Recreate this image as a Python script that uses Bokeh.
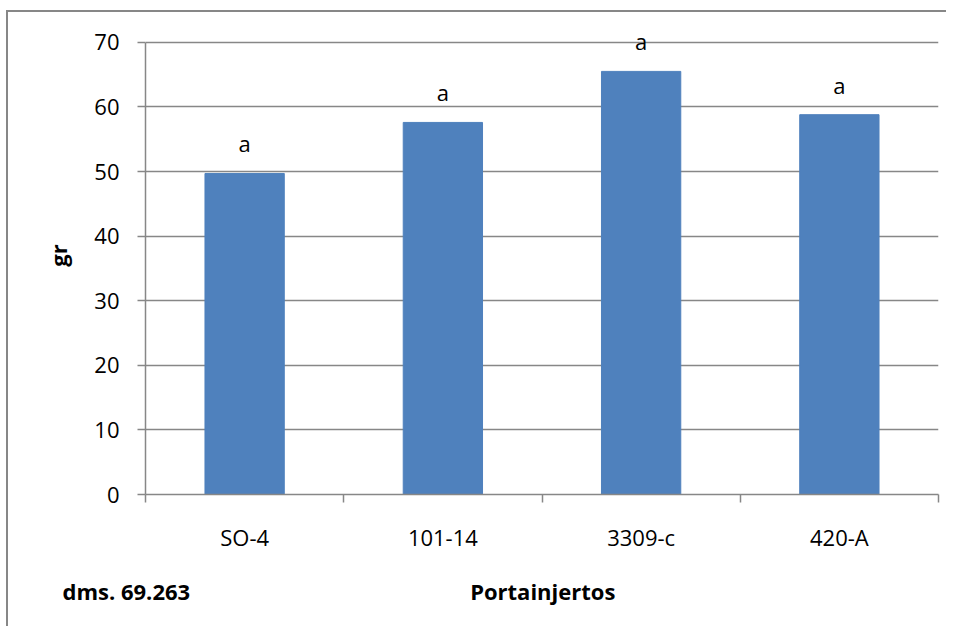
from bokeh.plotting import figure
from bokeh.models import Range1d, FixedTicker, ColumnDataSource, Title
from bokeh.core.properties import value
from bokeh.embed import file_html
from bokeh.resources import INLINE

categories = ["SO-4", "101-14", "3309-c", "420-A"]
values = [49.7, 57.6, 65.5, 58.8]
letters = ["a", "a", "a", "a"]
y_ticks = [0, 10, 20, 30, 40, 50, 60, 70]
y_label = "gr"
x_label = "Portainjertos"
note = "dms. 69.263"

FONT = "Open Sans"
GREY = "#878787"
NBSP = "\u00a0"

centers = [i + 0.5 for i in range(len(categories))]
bounds = list(range(len(categories) + 1))

src = ColumnDataSource(dict(x=centers, top=values, txt=letters))

p = figure(width=940, height=616, output_backend="svg", toolbar_location=None,
           x_range=Range1d(0, len(categories)), y_range=Range1d(y_ticks[0], y_ticks[-1] + 4),
           min_border_left=137, min_border_top=4, min_border_right=10, min_border_bottom=134)
p.styles = {"border-left": "2px solid #878787", "border-top": "2px solid #878787",
            "margin-left": "6px", "margin-top": "10px"}
p.outline_line_color = None
p.background_fill_color = "white"
p.border_fill_color = "white"

p.vbar(x="x", top="top", width=0.4, source=src, fill_color="#4F81BD", line_color="#4F81BD")
p.text(x="x", y="top", text="txt", source=src, y_offset=-30, text_align="center",
       text_baseline="alphabetic", text_font=value(FONT), text_font_size="22px", text_color="black")

# x axis
xa = p.xaxis[0]
xa.ticker = FixedTicker(ticks=centers, minor_ticks=bounds)
xa.major_label_overrides = {c: n for c, n in zip(centers, categories)}
xa.major_tick_line_color = None
xa.major_tick_out = 0
xa.major_tick_in = 0
xa.minor_tick_line_color = GREY
xa.minor_tick_line_width = 1.5
xa.minor_tick_out = 8
xa.minor_tick_in = 0
xa.axis_line_color = GREY
xa.axis_line_width = 1.5
xa.major_label_text_font = FONT
xa.major_label_text_font_size = "22px"
xa.major_label_text_color = "black"
xa.major_label_standoff = 19
# blank spacer label: pushes the bottom line a little lower
xa.axis_label = NBSP
xa.axis_label_text_font_size = "4px"
xa.axis_label_standoff = 6

# bottom line: the "dms." note (left of the plot) and the axis title (centred)
p.add_layout(Title(text=note + NBSP * 49 + x_label, align="left", offset=-83, standoff=10,
                   text_font=FONT, text_font_style="bold", text_font_size="22px",
                   text_color="black"), "below")

# y axis
ya = p.yaxis[0]
ya.ticker = FixedTicker(ticks=y_ticks)
ya.bounds = (y_ticks[0], y_ticks[-1])
ya.minor_tick_line_color = None
ya.major_tick_line_color = GREY
ya.major_tick_line_width = 1.5
ya.major_tick_out = 8
ya.major_tick_in = 0
ya.axis_line_color = GREY
ya.axis_line_width = 1.5
ya.major_label_text_font = FONT
ya.major_label_text_font_size = "22px"
ya.major_label_text_color = "black"
ya.major_label_standoff = 18
ya.axis_label = y_label
ya.axis_label_text_font = FONT
ya.axis_label_text_font_style = "bold"
ya.axis_label_text_font_size = "22px"
ya.axis_label_text_color = "black"
ya.axis_label_standoff = 18

p.xgrid.grid_line_color = None
p.ygrid.grid_line_color = GREY
p.ygrid.grid_line_width = 1.5

open("out.html", "w").write(file_html(p, INLINE))
